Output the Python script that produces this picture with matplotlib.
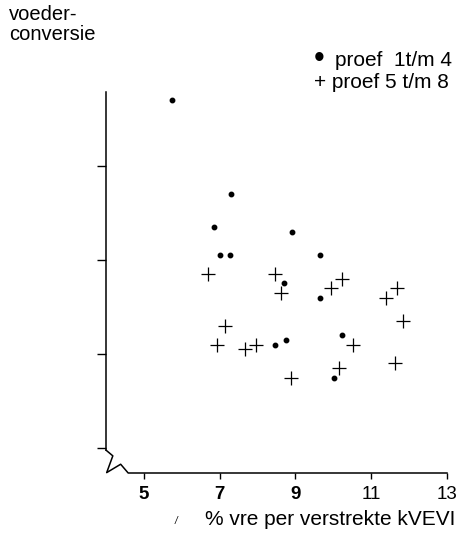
import matplotlib
matplotlib.use("Agg")
import matplotlib.pyplot as plt

plt.rcParams['font.family'] = ['Liberation Sans', 'DejaVu Sans']

# proef 1 t/m 4 (dots)
x_dots = [5.73, 7.31, 6.84, 7.00, 7.26, 8.90, 9.66, 8.71, 9.64, 8.45, 8.74, 10.24, 10.03]
y_dots = [3.34, 3.14, 3.07, 3.01, 3.01, 3.06, 3.01, 2.95, 2.92, 2.82, 2.83, 2.84, 2.75]

# proef 5 t/m 8 (plus)
x_plus = [6.70, 8.45, 8.61, 9.93, 10.22, 11.38, 11.67, 11.83, 7.13, 6.94, 7.68, 7.95,
          10.51, 8.87, 10.14, 11.62]
y_plus = [2.97, 2.97, 2.93, 2.94, 2.96, 2.92, 2.94, 2.87, 2.86, 2.82, 2.81, 2.82,
          2.82, 2.75, 2.77, 2.78]

x_ticks = [5, 7, 9, 11, 13]
x_ticklabels = ['5', '7', '9', '11', '13']
y_ticks = [2.6, 2.8, 3.0, 3.2]  # no labels in the original

fig = plt.figure(figsize=(4.6, 5.33), dpi=100)
ax = fig.add_axes([106 / 460, 1 - 473 / 533, 341 / 460, 381 / 533])

ax.plot(x_dots, y_dots, linestyle='none', marker='o', markersize=3.2, color='black')
ax.plot(x_plus, y_plus, linestyle='none', marker='+', markersize=10,
        markeredgewidth=0.9, color='black')

ax.set_xlim(4, 13)
ax.set_ylim(2.547, 3.357)

# axes drawn by hand: left line, break zigzag, bottom line
for s in ax.spines.values():
    s.set_visible(False)
ax.plot([0, 0], [1, 0.06], transform=ax.transAxes, color='black', lw=1.1, clip_on=False)
ax.plot([0, 0.02, 0.002, 0.043, 0.065, 1], [0.06, 0.045, 0.001, 0.023, 0, 0],
        transform=ax.transAxes, color='black', lw=1.1, clip_on=False)

ax.set_xticks(x_ticks)
ax.set_xticklabels(x_ticklabels, fontsize=13.5)
for lab in ax.get_xticklabels()[:3]:
    lab.set_fontweight('bold')
ax.set_yticks(y_ticks)
ax.set_yticklabels([])
ax.tick_params(axis='x', direction='out', length=4.5, width=1, pad=5)
ax.tick_params(axis='y', direction='out', length=6.5, width=1)

fig.text(9 / 460, 1 - 20 / 533, 'voeder-', fontsize=14.5, ha='left', va='baseline')
fig.text(9 / 460, 1 - 40 / 533, 'conversie', fontsize=14.5, ha='left', va='baseline')

# legend written as text
fig.text(314 / 460, 1 - 67 / 533, '\u2022', fontsize=22, ha='left', va='baseline')
fig.text(335 / 460, 1 - 66 / 533, 'proef  1t/m 4', fontsize=15, ha='left', va='baseline')
fig.text(314 / 460, 1 - 88 / 533, '+ proef 5 t/m 8', fontsize=15, ha='left', va='baseline')

fig.text(175 / 460, 1 - 524 / 533, '/', fontsize=7, style='italic', ha='left', va='baseline')
fig.text(205 / 460, 1 - 525 / 533, '% vre per verstrekte kVEVI', fontsize=15,
         ha='left', va='baseline')

fig.savefig('out.png', dpi=100)
